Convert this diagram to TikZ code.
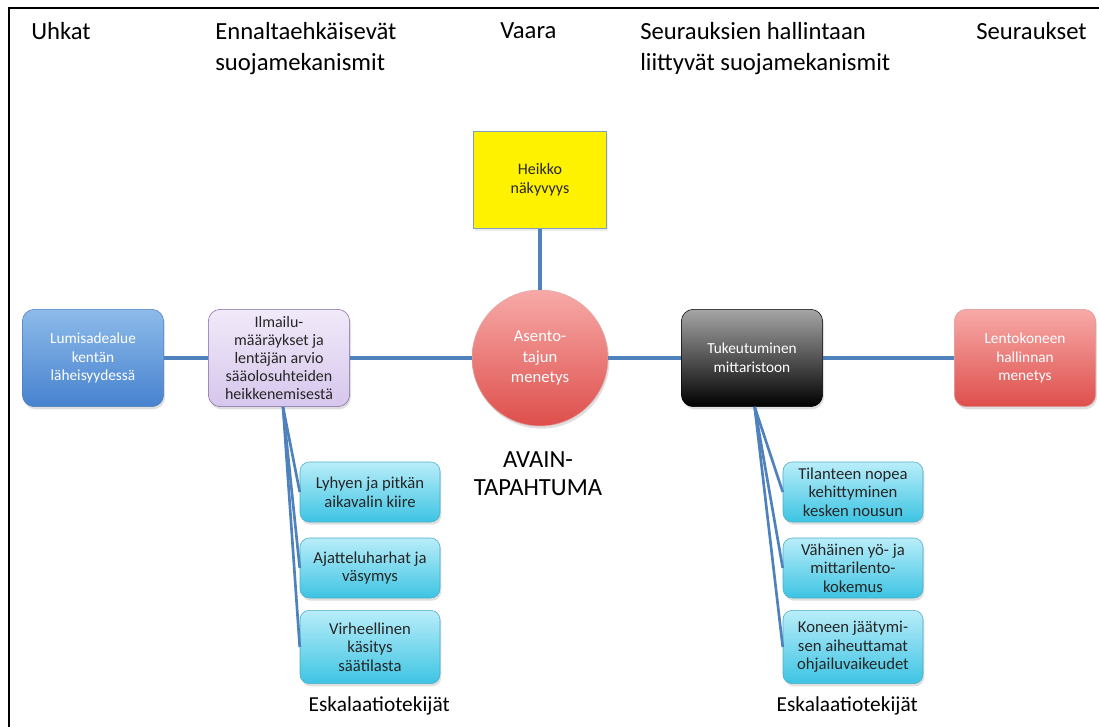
\documentclass[tikz,border=0pt]{standalone}
\usepackage{fontspec}
\setmainfont{Carlito}
\usepackage{xcolor}
\usepackage{tikz}
\usetikzlibrary{shapes.geometric, shadows}
\definecolor{linkBlue}{HTML}{4F81BD}
\definecolor{threatTop}{HTML}{8DBBEA}
\definecolor{threatBot}{HTML}{4782CF}
\definecolor{threatEdge}{HTML}{4A7EBB}
\definecolor{lilacTop}{HTML}{F1EAF9}
\definecolor{lilacBot}{HTML}{D6C6EC}
\definecolor{lilacEdge}{HTML}{8064A2}
\definecolor{redTop}{HTML}{F7AAA8}
\definecolor{redBot}{HTML}{DE4F4C}
\definecolor{redEdge}{HTML}{C0504D}
\definecolor{cyanTop}{HTML}{B9EDF9}
\definecolor{cyanBot}{HTML}{3DC4E3}
\definecolor{cyanEdge}{HTML}{4BACC6}
\definecolor{hazardEdge}{HTML}{7F9EC2}
\def\scale{1}

\begin{document}
\begin{tikzpicture}[x=0.75pt, y=-0.75pt, scale=\scale,
	box/.style={rectangle, rounded corners=9pt, minimum width=106pt, minimum height=73pt,
		inner sep=1pt, align=center, font=\fontsize{11.5}{14}\selectfont,
		drop shadow={opacity=0.25, shadow xshift=1pt, shadow yshift=-2pt}},
	threatbox/.style={box, draw=threatEdge, top color=threatTop, bottom color=threatBot, text=white},
	barrierbox/.style={box, draw=lilacEdge, top color=lilacTop, bottom color=lilacBot, text=black!85,
		font=\fontsize{12}{13.6}\selectfont},
	recoverybox/.style={box, draw=black, top color=black!35, bottom color=black, text=white},
	outcomebox/.style={box, draw=redEdge!60, top color=redTop, bottom color=redBot, text=white},
	escbox/.style={box, rounded corners=7pt, minimum width=105pt, minimum height=45pt,
		draw=cyanEdge, top color=cyanTop, bottom color=cyanBot, text=black!85,
		font=\fontsize{12.5}{14}\selectfont},
	header/.style={anchor=north west, inner sep=0pt, align=left, font=\fontsize{18.5}{23}\selectfont},
	link/.style={linkBlue, line width=2.6pt},
	esclink/.style={linkBlue, line width=2pt}]

	\useasboundingbox (0,0) rectangle (1099,727);
	\draw[line width=1.5pt] (9,727) -- (9,8) -- (1099,8);

	% column headings
	\node[header] (hThreat) at (31,22) {Uhkat};
	\node[header] (hPrevent) at (215,22) {Ennaltaehkäisevät\\suojamekanismit};
	\node[header] (hHazard) at (500,22) {Vaara};
	\node[header] (hRecover) at (640,22) {Seurauksien hallintaan\\liittyvät suojamekanismit};
	\node[header] (hOutcome) at (976,22) {Seuraukset};

	% main row
	\node[threatbox] (threat) at (93,358) {Lumisadealue\\kentän\\läheisyydessä};
	\node[barrierbox] (barrier) at (279,358) {Ilmailu-\\määräykset ja\\lentäjän arvio\\sääolosuhteiden\\heikkenemisestä};
	\node[circle, minimum size=102pt, inner sep=0pt, align=center, draw=redEdge!50,
		top color=redTop, bottom color=redBot, text=white, font=\fontsize{12.5}{15.5}\selectfont,
		drop shadow={opacity=0.25, shadow xshift=1pt, shadow yshift=-2pt}]
		(event) at (540,358) {Asento-\\tajun\\menetys};
	\node[rectangle, minimum width=100pt, minimum height=73pt, draw=hazardEdge, fill=yellow,
		align=center, font=\fontsize{12}{14}\selectfont, text=black!85,
		drop shadow={opacity=0.15, shadow xshift=1pt, shadow yshift=-2pt}]
		(hazard) at (540,180) {Heikko\\näkyvyys};
	\node[recoverybox] (recovery) at (752,358) {Tukeutuminen\\mittaristoon};
	\node[outcomebox] (outcome) at (1025,358) {Lentokoneen\\hallinnan\\menetys};

	\node[align=center, font=\fontsize{18.5}{21}\selectfont] (keyEvent) at (538,474) {AVAIN-\\TAPAHTUMA};

	% escalation factors
	\node[escbox] (escL1) at (370,492) {Lyhyen ja pitkän\\aikavalin kiire};
	\node[escbox] (escL2) at (370,568) {Ajatteluharhat ja\\väsymys};
	\node[escbox, minimum height=55pt] (escL3) at (370,647) {Virheellinen\\käsitys\\säätilasta};
	\node[escbox] (escR1) at (853,492) {Tilanteen nopea\\kehittyminen\\kesken nousun};
	\node[escbox] (escR2) at (853,568) {Vähäinen yö- ja\\mittarilento-\\kokemus};
	\node[escbox, minimum height=55pt] (escR3) at (853,647) {Koneen jäätymi-\\sen aiheuttamat\\ohjailuvaikeudet};

	\node[anchor=west, font=\fontsize{16}{18}\selectfont] (escLabelL) at (304,706) {Eskalaatiotekijät};
	\node[anchor=west, font=\fontsize{16}{18}\selectfont] (escLabelR) at (772,706) {Eskalaatiotekijät};

	% connectors
	\draw[link] (threat) -- (barrier);
	\draw[link] (barrier) -- (event);
	\draw[link] (event) -- (recovery);
	\draw[link] (recovery) -- (outcome);
	\draw[link] (hazard) -- (event);
	\foreach \n in {escL1, escL2, escL3}
		\draw[esclink] ([xshift=3]barrier.south) -- (\n.west);
	\foreach \n in {escR1, escR2, escR3}
		\draw[esclink] ([xshift=2]recovery.south) -- (\n.west);

\end{tikzpicture}
\end{document}
